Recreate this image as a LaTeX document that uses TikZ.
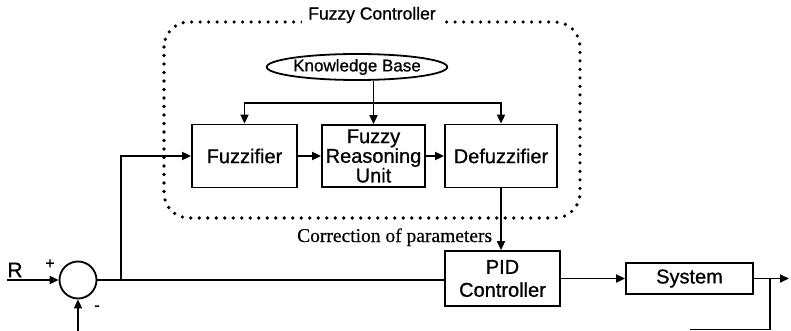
\documentclass[tikz,border=0pt]{standalone}
\usepackage{fontspec}
\setmainfont{Liberation Serif}
\newfontfamily\arialf[FakeBold=0.9]{Liberation Sans}
\newfontfamily\timesf[FakeBold=0.5]{Liberation Serif}
\usetikzlibrary{arrows.meta,shapes.geometric}
\begin{document}
\begin{tikzpicture}[x=1pt,y=-1pt,line width=1.8pt,
  blk/.style={draw,line width=1.8pt,align=center,inner sep=0pt,font=\arialf\fontsize{20}{18}\selectfont},
  arr/.style={-{Triangle[length=9pt,width=8pt]}},
  dotbox/.style={line width=3.6pt,dash pattern=on 0pt off 8.5pt,line cap=round,rounded corners=25pt}]
\useasboundingbox (0,0) rectangle (791,331);
% fuzzy controller frame
\draw[dotbox] (164,22) rectangle (580,218);
\node[fill=white,inner xsep=6pt,inner ysep=2pt,font=\arialf\fontsize{17.5}{20}\selectfont] (title) at (372,15) {Fuzzy Controller};
% blocks
\node[draw,ellipse,minimum width=165pt,minimum height=26pt,inner sep=0pt,font=\arialf\fontsize{17}{18}\selectfont] (kb) at (357,67) {Knowledge Base};
\node[blk,minimum width=105pt,minimum height=63pt] (fz) at (244.5,156) {Fuzzifier};
\node[blk,minimum width=103pt,minimum height=62pt] (fru) at (373.5,156) {Fuzzy\\Reasoning\\Unit};
\node[blk,minimum width=112pt,minimum height=63pt] (dfz) at (501,156) {Defuzzifier};
\node[blk,minimum width=115pt,minimum height=55pt,font=\arialf\fontsize{20}{23}\selectfont] (pid) at (502.5,278.5) {PID\\Controller};
\node[blk,minimum width=127pt,minimum height=31pt] (sys) at (689.5,278.5) {System};
\node[draw,circle,minimum size=37pt,inner sep=0pt] (sum) at (78,280) {};
% coordinates
\coordinate (bus) at (373.5,103);
\coordinate (rin) at (7,280);
\coordinate (fbin) at (78,331);
\coordinate (tap) at (121,280);
\coordinate (out) at (789,278.5);
\coordinate (jn) at (770,278.5);
\coordinate (fbend) at (690,329.5);
% connectors
\draw[arr] (kb.south -| fru.north) -- (fru.north);
\draw[arr] (bus) -| (fz.north);
\draw[arr] (bus) -| (dfz.north);
\draw[arr] (fz) -- (fru);
\draw[arr] (fru) -- (dfz);
\draw[arr] (dfz.south) -- (dfz.south |- pid.north);
\draw[arr] (rin) -- (sum.west);
\draw[arr] (fbin) -- (sum.south);
\draw (sum.east) -- (pid.west |- sum.east);
\draw[arr] (tap) |- (fz.west);
\draw[arr] (pid.east |- sys) -- (sys.west);
\draw[arr] (sys.east) -- (out);
\draw (jn) |- (fbend);
% labels
\node[font=\arialf\fontsize{21}{22}\selectfont,inner sep=0pt] (rlab) at (15,270) {R};
\node[font=\arialf\fontsize{16}{16}\selectfont,inner sep=0pt] (plus) at (50,264) {+};
\node[font=\arialf\fontsize{16}{16}\selectfont,inner sep=0pt] (minus) at (97,308) {-};
\node[font=\timesf\fontsize{19.5}{20}\selectfont,inner sep=0pt,anchor=base east] (corr) at (493,242) {Correction of parameters};
\end{tikzpicture}
\end{document}
